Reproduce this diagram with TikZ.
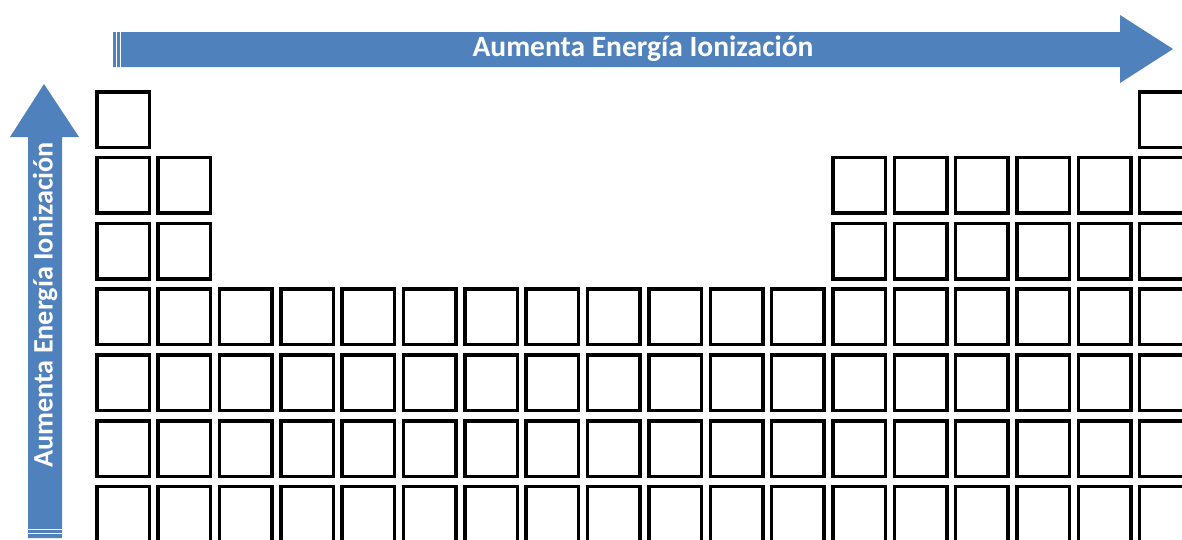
\documentclass[tikz,border=0pt]{standalone}
\usepackage{fontspec}
\setmainfont{Carlito}
\definecolor{arrowblue}{RGB}{79,129,189}
\tikzset{
  cell/.style={draw, line width=3.5pt, minimum width=52.5pt, minimum height=55.5pt, inner sep=0pt},
  arrowtext/.style={text=white, inner sep=0pt, font=\bfseries\fontsize{29.5}{30}\selectfont}
}
\begin{document}
\begin{tikzpicture}[x=1pt, y=-1pt]
    \useasboundingbox (0,0) rectangle (1182,539);
    \clip (0,0) rectangle (1182,539);
    % arrow along the periods
    \fill[arrowblue] (113,32) -- (1120,32) -- (1120,15) -- (1173,49) -- (1120,83) -- (1120,67) -- (113,67) -- cycle;
    \draw[white, line width=0.8pt] (116.5,32) -- (116.5,67) (120,32) -- (120,67);
    \node[arrowtext] (htext) at (643,49) {Aumenta Energía Ionización};
    % arrow up the groups
    \fill[arrowblue] (28,538) -- (28,137) -- (10,137) -- (44,84) -- (79,137) -- (62,137) -- (62,538) -- cycle;
    \draw[white, line width=0.8pt] (28,529.5) -- (62,529.5) (28,533.5) -- (62,533.5);
    \node[arrowtext, rotate=90, font=\bfseries\fontsize{28.2}{29}\selectfont] (vtext) at (45,305) {Aumenta Energía Ionización};
    % table cells
    \foreach \c in {1,18}
      \node[cell] (e-1-\c) at ({123+61.35*(\c-1)}, 119.5) {};
    \foreach \r in {2,3}
      \foreach \c in {1,2,13,14,15,16,17,18}
        \node[cell] (e-\r-\c) at ({123+61.35*(\c-1)}, {119.5+65.8*(\r-1)}) {};
    \foreach \r in {4,...,7}
      \foreach \c in {1,...,18}
        \node[cell] (e-\r-\c) at ({123+61.35*(\c-1)}, {119.5+65.8*(\r-1)}) {};
\end{tikzpicture}
\end{document}
